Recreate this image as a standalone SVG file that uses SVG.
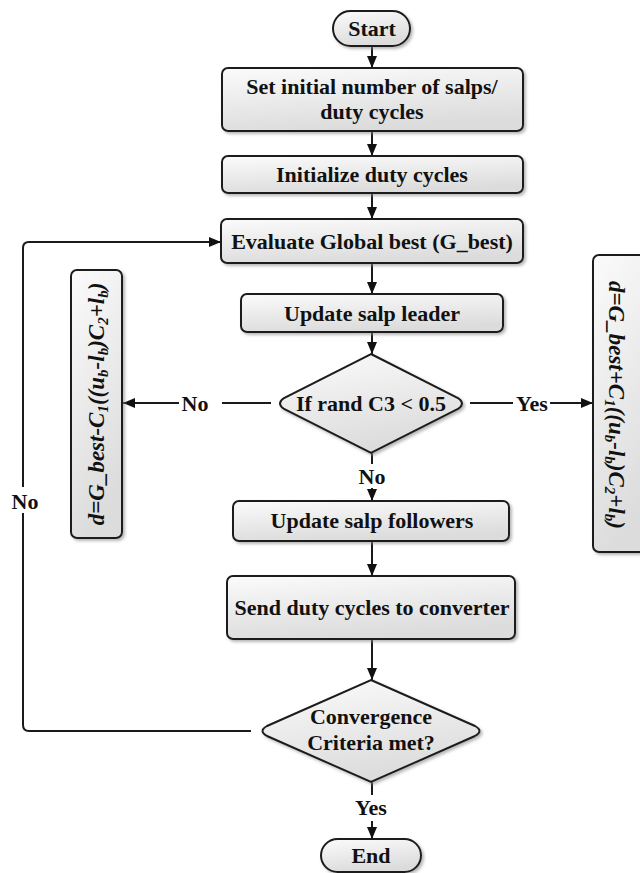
<svg xmlns="http://www.w3.org/2000/svg" width="640" height="873" viewBox="0 0 640 873">
  <defs>
    <linearGradient id="fill" x1="0" y1="0" x2="0.3" y2="1">
      <stop offset="0" stop-color="#fbfbfb"/>
      <stop offset="1" stop-color="#dcdcdc"/>
    </linearGradient>
    <filter id="shadow" x="-10%" y="-10%" width="120%" height="130%">
      <feDropShadow dx="2" dy="2" stdDeviation="1.5" flood-color="#888" flood-opacity="0.6"/>
    </filter>
    <marker id="arrow" viewBox="0 0 12 10" refX="12" refY="5" markerWidth="12" markerHeight="10" markerUnits="userSpaceOnUse" orient="auto">
      <path d="M0,0 L12,5 L0,10 z" fill="#111"/>
    </marker>
    <style>
      .shape { fill: url(#fill); stroke: #1a1a1a; stroke-width: 2; filter: url(#shadow); }
      .lbl { font-family: "Liberation Serif", "Times New Roman", serif; font-weight: bold; font-size: 22px; fill: #111; text-anchor: middle; }
      .eq { font-family: "Liberation Serif", "Times New Roman", serif; font-weight: bold; font-style: italic; font-size: 23px; fill: #111; text-anchor: middle; }
      .sub { font-size: 15px; }
      .wire { fill: none; stroke: #1a1a1a; stroke-width: 2; }
      .wire-a { fill: none; stroke: #1a1a1a; stroke-width: 2; marker-end: url(#arrow); }
    </style>
  </defs>

  <rect width="640" height="873" fill="#fff"/>

  <!-- connectors -->
  <g id="connectors">
    <line class="wire-a" x1="372" y1="46" x2="372" y2="68"/>
    <line class="wire-a" x1="372" y1="131" x2="372" y2="156"/>
    <line class="wire-a" x1="372" y1="193" x2="372" y2="219"/>
    <line class="wire-a" x1="372" y1="263" x2="372" y2="294"/>
    <line class="wire-a" x1="372" y1="332" x2="372" y2="354"/>
    <!-- decision: No (left) -->
    <line class="wire" x1="271" y1="403" x2="222" y2="403"/>
    <line class="wire-a" x1="179" y1="403" x2="123" y2="403"/>
    <text class="lbl" x="195" y="411">No</text>
    <!-- decision: Yes (right) -->
    <line class="wire" x1="470" y1="403" x2="513" y2="403"/>
    <line class="wire-a" x1="550" y1="403" x2="593" y2="403"/>
    <text class="lbl" x="532" y="411">Yes</text>
    <!-- decision: No (down) -->
    <line class="wire" x1="372" y1="453" x2="372" y2="464"/>
    <text class="lbl" x="372" y="484">No</text>
    <line class="wire-a" x1="372" y1="488" x2="372" y2="501"/>
    <line class="wire-a" x1="372" y1="541" x2="372" y2="576"/>
    <line class="wire-a" x1="372" y1="639" x2="372" y2="680"/>
    <!-- convergence: Yes -->
    <line class="wire" x1="372" y1="782" x2="372" y2="795"/>
    <text class="lbl" x="371" y="815">Yes</text>
    <line class="wire-a" x1="372" y1="821" x2="372" y2="839"/>
    <!-- convergence: No, loop back -->
    <path class="wire" d="M251,731 H29 Q23,731 23,725 V513"/>
    <path class="wire-a" d="M23,487 V248 Q23,242 29,242 H221"/>
    <text class="lbl" x="25" y="509">No</text>
  </g>

  <g id="start">
    <rect class="shape" x="333" y="11" width="77" height="35" rx="17.5"/>
    <text class="lbl" x="372" y="36">Start</text>
  </g>

  <g id="set-initial">
    <rect class="shape" x="222" y="68" width="301" height="63" rx="6"/>
    <text class="lbl" x="372" y="94">Set initial number of salps/</text>
    <text class="lbl" x="372" y="119">duty cycles</text>
  </g>

  <g id="init-duty">
    <rect class="shape" x="222" y="156" width="301" height="37" rx="6"/>
    <text class="lbl" x="372" y="182">Initialize duty cycles</text>
  </g>

  <g id="eval-gbest">
    <rect class="shape" x="221" y="219" width="302" height="44" rx="6"/>
    <text class="lbl" x="372" y="249">Evaluate Global best (G_best)</text>
  </g>

  <g id="update-leader">
    <rect class="shape" x="241" y="294" width="262" height="38" rx="6"/>
    <text class="lbl" x="372" y="321">Update salp leader</text>
  </g>

  <g id="rand-check">
    <path class="shape" d="M371,354 L458,398 Q466,403.5 458,409 L371,453 L284,409 Q276,403.5 284,398 Z"/>
    <text class="lbl" x="371" y="411">If rand C3 &lt; 0.5</text>
  </g>

  <g id="update-minus">
    <rect class="shape" x="71" y="270" width="51" height="268" rx="6"/>
    <text class="eq" transform="translate(97,404) rotate(-90)" x="0" y="7">d=G_best-C<tspan class="sub" dy="4">1</tspan><tspan dy="-4">((u</tspan><tspan class="sub" dy="4">b</tspan><tspan dy="-4">-l</tspan><tspan class="sub" dy="4">b</tspan><tspan dy="-4">)C</tspan><tspan class="sub" dy="4">2</tspan><tspan dy="-4">+l</tspan><tspan class="sub" dy="4">b</tspan><tspan dy="-4">)</tspan></text>
  </g>

  <g id="update-plus">
    <rect class="shape" x="593" y="255" width="60" height="297" rx="6"/>
    <text class="eq" transform="translate(616,405) rotate(90)" x="0" y="7">d=G_best+C<tspan class="sub" dy="4">1</tspan><tspan dy="-4">((u</tspan><tspan class="sub" dy="4">b</tspan><tspan dy="-4">-l</tspan><tspan class="sub" dy="4">b</tspan><tspan dy="-4">)C</tspan><tspan class="sub" dy="4">2</tspan><tspan dy="-4">+l</tspan><tspan class="sub" dy="4">b</tspan><tspan dy="-4">)</tspan></text>
  </g>

  <g id="update-followers">
    <rect class="shape" x="233" y="501" width="276" height="40" rx="6"/>
    <text class="lbl" x="372" y="528">Update salp followers</text>
  </g>

  <g id="send-duty">
    <rect class="shape" x="227" y="576" width="288" height="63" rx="6"/>
    <text class="lbl" x="372" y="615">Send duty cycles to converter</text>
  </g>

  <g id="convergence">
    <path class="shape" d="M371,680 L475,726 Q484,731 475,736 L371,782 L267,736 Q258,731 267,726 Z"/>
    <text class="lbl" x="371" y="724">Convergence</text>
    <text class="lbl" x="371" y="750">Criteria met?</text>
  </g>

  <g id="end">
    <rect class="shape" x="321" y="839" width="100" height="33" rx="16.5"/>
    <text class="lbl" x="371" y="863">End</text>
  </g>
</svg>
